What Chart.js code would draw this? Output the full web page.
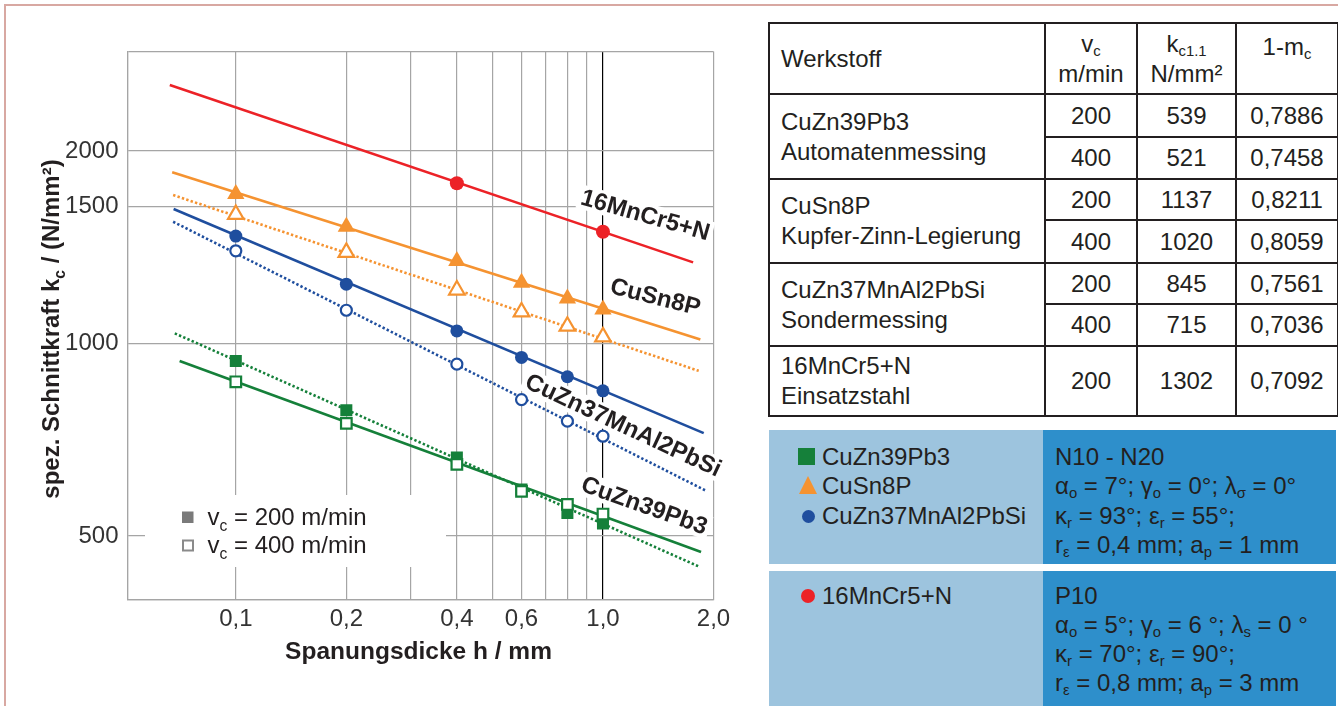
<!DOCTYPE html>
<html lang="de">
<head>
<meta charset="utf-8">
<title>Spezifische Schnittkraft</title>
<script src="https://cdn.jsdelivr.net/npm/chart.js@4.4.1/dist/chart.umd.min.js"></script>
<style>
    body { margin: 0; width: 1338px; height: 706px; position: relative; overflow: hidden; background: #fff;
           font-family: "Liberation Sans", Arial, sans-serif; color: #231f20; }
    .frame { position: absolute; left: 4px; top: 4px; right: 0; bottom: 0;
             border-top: 2px solid #d8a8a2; border-left: 2px solid #d8a8a2; }
    #chartBox { position: absolute; left: 0; top: 0; width: 760px; height: 706px; }
    sub { font-size: 0.62em; vertical-align: -0.3em; line-height: 0; }

    table.kw { position: absolute; left: 768px; top: 22px; width: 569px; height: 394px;
               border-collapse: collapse; table-layout: fixed; font-size: 24px; }
    table.kw td { border: 2px solid #231f20; text-align: center; padding: 0; line-height: 30px; }
    table.kw td.name { text-align: left; padding-left: 11px; }
    table.kw td.top { vertical-align: top; padding-top: 8px; }

    .box { position: absolute; font-size: 24px; line-height: 29.3px; }
    .light { background: #9dc4de; left: 769px; width: 274px; }
    .dark { background: #2e8fcb; left: 1043px; width: 281px; padding-left: 12px; }
    .row1 { top: 430px; height: 134px; }
    .row2 { top: 571px; height: 135px; }
    .row1.dark { padding-top: 12px; height: 122px; }
    .row2.dark { padding-top: 9.5px; height: 125.5px; }
    .light .item { position: relative; padding-left: 53px; }
    .row1.light { padding-top: 12px; height: 122px; }
    .row2.light { padding-top: 9.5px; height: 125.5px; }
    .mk { position: absolute; }
    .sq { left: 29px; top: 6px; width: 17px; height: 17px; background: #15803a; }
    .tri { left: 30px; top: 5px; width: 0; height: 0; border-left: 9px solid transparent;
           border-right: 9px solid transparent; border-bottom: 18px solid #f59331; }
    .dot { left: 33px; top: 9px; width: 13px; height: 13px; border-radius: 50%; background: #1f4e9e; }
    .dot.red { left: 32px; top: 8px; width: 14px; height: 14px; background: #ec2227; }
</style>
</head>
<body>
<div class="frame"></div>
<div id="chartBox"><canvas id="kcChart" width="760" height="706"></canvas></div>

<table class="kw">
    <colgroup><col style="width:276px"><col style="width:92px"><col style="width:99px"><col style="width:102px"></colgroup>
    <tr style="height:71px">
        <td class="name">Werkstoff</td>
        <td>v<sub>c</sub><br>m/min</td>
        <td>k<sub>c1.1</sub><br>N/mm²</td>
        <td class="top">1-m<sub>c</sub></td>
    </tr>
    <tr style="height:43px"><td class="name" rowspan="2">CuZn39Pb3<br>Automatenmessing</td><td>200</td><td>539</td><td>0,7886</td></tr>
    <tr style="height:42px"><td>400</td><td>521</td><td>0,7458</td></tr>
    <tr style="height:41px"><td class="name" rowspan="2">CuSn8P<br>Kupfer-Zinn-Legierung</td><td>200</td><td>1137</td><td>0,8211</td></tr>
    <tr style="height:43px"><td>400</td><td>1020</td><td>0,8059</td></tr>
    <tr style="height:41px"><td class="name" rowspan="2">CuZn37MnAl2PbSi<br>Sondermessing</td><td>200</td><td>845</td><td>0,7561</td></tr>
    <tr style="height:42px"><td>400</td><td>715</td><td>0,7036</td></tr>
    <tr style="height:70px"><td class="name">16MnCr5+N<br>Einsatzstahl</td><td>200</td><td>1302</td><td>0,7092</td></tr>
</table>

<div class="box light row1">
    <div class="item"><span class="mk sq"></span>CuZn39Pb3</div>
    <div class="item"><span class="mk tri"></span>CuSn8P</div>
    <div class="item"><span class="mk dot"></span>CuZn37MnAl2PbSi</div>
</div>
<div class="box dark row1">
    <div>N10 - N20</div>
    <div>α<sub>o</sub> = 7°; γ<sub>o</sub> = 0°; λ<sub>σ</sub> = 0°</div>
    <div>κ<sub>r</sub> = 93°; ε<sub>r</sub> = 55°;</div>
    <div>r<sub>ε</sub> = 0,4 mm; a<sub>p</sub> = 1 mm</div>
</div>
<div class="box light row2">
    <div class="item"><span class="mk dot red"></span>16MnCr5+N</div>
</div>
<div class="box dark row2">
    <div>P10</div>
    <div>α<sub>o</sub> = 5°; γ<sub>o</sub> = 6 °; λ<sub>s</sub> = 0 °</div>
    <div>κ<sub>r</sub> = 70°; ε<sub>r</sub> = 90°;</div>
    <div>r<sub>ε</sub> = 0,8 mm; a<sub>p</sub> = 3 mm</div>
</div>

<script>
// Achsen (doppelt logarithmisch)
const X_MIN = 0.0507, X_MAX = 2.0;
const Y_MIN = 397, Y_MAX = 2861;
const xGridValues = [0.1, 0.2, 0.3, 0.4, 0.5, 0.6, 0.7, 0.8, 0.9, 1.0, 2.0];
const xLabelValues = [0.1, 0.2, 0.4, 0.6, 1.0, 2.0];
const xLabelTexts = ['0,1', '0,2', '0,4', '0,6', '1,0', '2,0'];
// die "1500"-Linie liegt in der Vorlage etwas höher als 1500 (wie im Original übernommen)
const yGridValues = [500, 1000, 1636, 2000];
const yLabelTexts = ['500', '1000', '1500', '2000'];

// Messpunkte, Spanungsdicke h in mm
const hPoints = [0.1, 0.2, 0.4, 0.6, 0.8, 1.0];
const hRed = [0.4, 1.0];
const kcCuZn39_200 = [939, 786, 663, 591, 543, 523];
const kcCuZn39_400 = [871, 750, 647, 587, 560, 541];
const kcCuSn8_200 = [1712, 1522, 1345, 1244, 1176, 1130];
const kcCuSn8_400 = [1591, 1388, 1212, 1120, 1064, 1024];
const kcCuZn37_200 = [1472, 1238, 1046, 951, 887, 843];
const kcCuZn37_400 = [1396, 1127, 928, 817, 756, 716];
const kcMnCr_200 = [1780, 1495];

// Ausgleichsgeraden: Anfangs- und Endpunkt
const fitHMnCr = [0.0661, 1.760], fitKcMnCr = [2536, 1339];
const fitHCuSn200 = [0.0671, 1.842], fitKcCuSn200 = [1852, 1014];
const fitHCuSn400 = [0.0675, 1.823], fitKcCuSn400 = [1706, 906];
const fitHCuZn37_200 = [0.0677, 1.881], fitKcCuZn37_200 = [1623, 724];
const fitHCuZn37_400 = [0.0675, 1.901], fitKcCuZn37_400 = [1550, 589];
const fitHCuZn39_400 = [0.0703, 1.850], fitKcCuZn39_400 = [939, 472];
const fitHCuZn39_200 = [0.0682, 1.823], fitKcCuZn39_200 = [1037, 448];

const RED = '#ec2227', ORANGE = '#f59331', BLUE = '#1f4e9e', GREEN = '#15803a';
const FONT = '"Liberation Sans", Arial, sans-serif';

// Werkstoff-Beschriftungen an den Geraden (Lage in Datenkoordinaten)
const lineLabels = [
    { text: '16MnCr5+N', h: 1.305, kc: 1588, angle: 16 },
    { text: 'CuSn8P', h: 1.389, kc: 1183, angle: 14 },
    { text: 'CuZn37MnAl2PbSi', h: 1.137, kc: 745, angle: 25 },
    { text: 'CuZn39Pb3', h: 1.297, kc: 558, angle: 19.5 }
];

function pts(xs, ys) {
    return xs.map((x, i) => ({ x: x, y: ys[i] }));
}

function fitLine(xs, ys, color, dotted) {
    return {
        data: pts(xs, ys),
        showLine: true,
        borderColor: color,
        borderWidth: 2.6,
        borderDash: dotted ? [2.4, 2.2] : [],
        pointRadius: 0,
        fill: false
    };
}

function markers(xs, ys, style, radius, color, open) {
    return {
        data: pts(xs, ys),
        showLine: false,
        pointStyle: style,
        pointRadius: radius,
        pointBackgroundColor: open ? '#fff' : color,
        pointBorderColor: color,
        pointBorderWidth: open ? 2.2 : 0
    };
}

// Texte mit Tiefstellung (k_c, v_c) zeichnen
function drawSubText(c, x, y, parts, size, bold, align) {
    const w = bold ? 'bold ' : '';
    let total = 0;
    c.textAlign = 'left';
    parts.forEach(p => {
        c.font = w + (p.sub ? size * 0.65 : size) + 'px ' + FONT;
        p.w = c.measureText(p.t).width;
        total += p.w;
    });
    let cx = align === 'center' ? x - total / 2 : x;
    parts.forEach(p => {
        c.font = w + (p.sub ? size * 0.65 : size) + 'px ' + FONT;
        c.fillText(p.t, cx, p.sub ? y + size * 0.25 : y);
        cx += p.w;
    });
}

const diagramPlugin = {
    id: 'diagram',
    beforeDatasetsDraw(chart) {
        const c = chart.ctx, a = chart.chartArea;
        // weisser Hintergrund der Geschwindigkeitslegende
        c.save();
        c.fillStyle = '#fff';
        c.fillRect(a.left + 17.5, a.bottom - 105, 301, 72);
        c.restore();
    },
    afterDatasetsDraw(chart) {
        const c = chart.ctx, a = chart.chartArea;
        const sx = chart.scales.x, sy = chart.scales.y;
        c.save();
        c.textBaseline = 'alphabetic';

        // Legende v_c
        c.fillStyle = '#7a7a7a';
        c.fillRect(a.left + 54.5, a.bottom - 88.5, 11.5, 11.5);
        c.strokeStyle = '#8a8a8a';
        c.lineWidth = 2;
        c.strokeRect(a.left + 55.5, a.bottom - 59.5, 10, 10);
        c.fillStyle = '#231f20';
        drawSubText(c, a.left + 80, a.bottom - 75.5, [{ t: 'v' }, { t: 'c', sub: true }, { t: ' = 200 m/min' }], 24, false, 'left');
        drawSubText(c, a.left + 80, a.bottom - 47, [{ t: 'v' }, { t: 'c', sub: true }, { t: ' = 400 m/min' }], 24, false, 'left');

        // Werkstoffnamen an den Geraden
        c.font = 'bold 24px ' + FONT;
        c.textBaseline = 'middle';
        c.textAlign = 'center';
        lineLabels.forEach(l => {
            const px = sx.getPixelForValue(l.h), py = sy.getPixelForValue(l.kc);
            const tw = c.measureText(l.text).width;
            c.save();
            c.translate(px, py);
            c.rotate(l.angle * Math.PI / 180);
            c.fillStyle = '#fff';
            c.fillRect(-tw / 2 - 3, -12, tw + 6, 24);
            c.fillStyle = '#231f20';
            c.fillText(l.text, 0, 1);
            c.restore();
        });
        c.restore();
    },
    afterDraw(chart) {
        const c = chart.ctx, a = chart.chartArea;
        c.save();
        c.fillStyle = '#231f20';
        c.textBaseline = 'alphabetic';
        // x-Achsentitel
        c.font = 'bold 24.5px ' + FONT;
        c.textAlign = 'center';
        c.fillText('Spanungsdicke h / mm', (a.left + a.right) / 2 - 2, 659);
        // y-Achsentitel
        c.translate(59, 329);
        c.rotate(-Math.PI / 2);
        drawSubText(c, 0, 0, [{ t: 'spez. Schnittkraft k' }, { t: 'c', sub: true }, { t: ' / (N/mm²)' }], 24, true, 'center');
        c.restore();
    }
};

const gridColor = '#a5a5a5';
const ctx = document.getElementById('kcChart').getContext('2d');
new Chart(ctx, {
    type: 'scatter',
    data: {
        datasets: [
            // Messpunkte zuerst, damit sie ueber den Geraden liegen
            markers(hRed, kcMnCr_200, 'circle', 7, RED, false),
            markers(hPoints, kcCuSn8_200, 'triangle', 10, ORANGE, false),
            markers(hPoints, kcCuSn8_400, 'triangle', 9, ORANGE, true),
            markers(hPoints, kcCuZn37_200, 'circle', 6.5, BLUE, false),
            markers(hPoints, kcCuZn37_400, 'circle', 5.5, BLUE, true),
            markers(hPoints, kcCuZn39_400, 'rect', 7.5, GREEN, true),
            markers(hPoints, kcCuZn39_200, 'rect', 8.5, GREEN, false),
            fitLine(fitHMnCr, fitKcMnCr, RED, false),
            fitLine(fitHCuSn200, fitKcCuSn200, ORANGE, false),
            fitLine(fitHCuSn400, fitKcCuSn400, ORANGE, true),
            fitLine(fitHCuZn37_200, fitKcCuZn37_200, BLUE, false),
            fitLine(fitHCuZn37_400, fitKcCuZn37_400, BLUE, true),
            fitLine(fitHCuZn39_400, fitKcCuZn39_400, GREEN, false),
            fitLine(fitHCuZn39_200, fitKcCuZn39_200, GREEN, true)
        ]
    },
    options: {
        responsive: false,
        animation: false,
        devicePixelRatio: 1,
        layout: { padding: { top: 51.5, right: 46.5, left: 0, bottom: 0 } },
        plugins: {
            legend: { display: false },
            tooltip: { enabled: false }
        },
        scales: {
            x: {
                type: 'logarithmic',
                min: X_MIN,
                max: X_MAX,
                afterFit: function(scale) { scale.height = 106; },
                afterBuildTicks: function(scale) {
                    scale.ticks = [X_MIN].concat(xGridValues).map(v => ({ value: v }));
                },
                ticks: {
                    autoSkip: false,
                    maxRotation: 0,
                    padding: 5,
                    color: '#333',
                    font: { family: FONT, size: 24 },
                    callback: function(value) {
                        const i = xLabelValues.indexOf(value);
                        return i >= 0 ? xLabelTexts[i] : '';
                    }
                },
                grid: {
                    drawTicks: false,
                    lineWidth: 1.2,
                    color: function(context) {
                        return context.tick && context.tick.value === 1 ? '#000' : gridColor;
                    }
                },
                border: { color: gridColor, width: 1.2 }
            },
            y: {
                type: 'logarithmic',
                min: Y_MIN,
                max: Y_MAX,
                afterFit: function(scale) { scale.width = 127.5; },
                afterBuildTicks: function(scale) {
                    scale.ticks = [Y_MIN].concat(yGridValues, [Y_MAX]).map(v => ({ value: v }));
                },
                ticks: {
                    autoSkip: false,
                    padding: 9,
                    color: '#333',
                    font: { family: FONT, size: 24 },
                    callback: function(value) {
                        const i = yGridValues.indexOf(value);
                        return i >= 0 ? yLabelTexts[i] : '';
                    }
                },
                grid: { drawTicks: false, lineWidth: 1.2, color: gridColor },
                border: { color: gridColor, width: 1.2 }
            }
        }
    },
    plugins: [diagramPlugin]
});
</script>
</body>
</html>
